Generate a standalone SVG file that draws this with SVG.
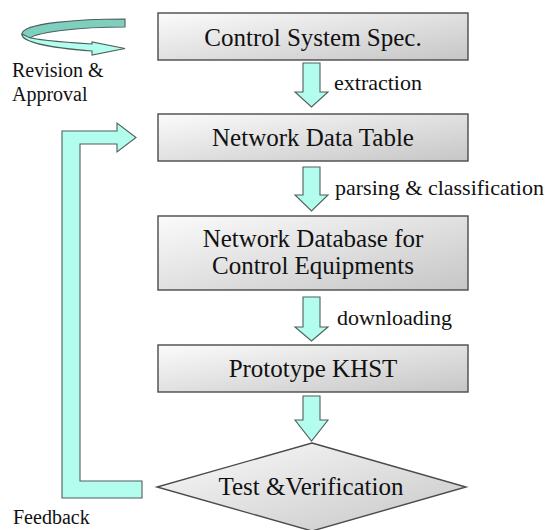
<svg xmlns="http://www.w3.org/2000/svg" width="548" height="530" viewBox="0 0 548 530">
  <style>
    .box { fill: url(#boxFill); stroke: #4a4a4a; stroke-width: 1.4; }
    .arrow { fill: #b3fdee; stroke: #4f5f5c; stroke-width: 1.1; stroke-linejoin: miter; }
    .dark { fill: #7fcfbf; stroke: #4f5f5c; stroke-width: 1.1; }
    text { font-family: "Liberation Serif", "Times New Roman", "DejaVu Serif", serif; fill: #111; }
    .node { font-size: 25px; text-anchor: middle; }
    .lbl { font-size: 22px; }
    .side { font-size: 20px; }
  </style>
  <defs>
    <linearGradient id="boxFill" x1="0" y1="0" x2="1" y2="1">
      <stop offset="0" stop-color="#fbfbfb"/>
      <stop offset="1" stop-color="#c6c6c6"/>
    </linearGradient>
  </defs>

  <!-- revision loop -->
  <g id="revision">
    <path class="dark" d="M125,19 C80,19 22,23 22,34 C22,37 24,39 28,40 C32,32 80,27 125,27 Z"/>
    <path class="arrow" d="M22,34 C22,42 50,48 92,51 L92,55 L125,48.5 L92,42 L92,44 C60,42 35,40 28,37 Z"/>
    <text class="side" x="12" y="77">Revision &amp;</text>
    <text class="side" x="12" y="101">Approval</text>
  </g>

  <!-- process steps -->
  <g id="spec">
    <rect class="box" x="158" y="13" width="310" height="47"/>
    <text class="node" x="313" y="46">Control System Spec.</text>
  </g>
  <g id="table">
    <rect class="box" x="158" y="114" width="310" height="47"/>
    <text class="node" x="313" y="146">Network Data Table</text>
  </g>
  <g id="database">
    <rect class="box" x="158" y="216" width="310" height="74"/>
    <text class="node" x="313" y="247">Network Database for</text>
    <text class="node" x="313" y="274">Control Equipments</text>
  </g>
  <g id="prototype">
    <rect class="box" x="158" y="345" width="310" height="47"/>
    <text class="node" x="313" y="377">Prototype KHST</text>
  </g>
  <g id="test">
    <polygon class="box" points="312,443 466,487 312,531 157,487"/>
    <text class="node" x="311" y="495">Test &amp;Verification</text>
  </g>

  <!-- connectors -->
  <g id="connectors">
    <polygon class="arrow" points="303,63 320,63 320,92 328,92 311.5,107 295,92 303,92"/>
    <text class="lbl" x="334" y="90">extraction</text>
    <polygon class="arrow" points="303,167 320,167 320,195 328,195 311.5,211 295,195 303,195"/>
    <text class="lbl" x="335" y="195">parsing &amp; classification</text>
    <polygon class="arrow" points="303,297 320,297 320,327 328,327 311.5,341 295,327 303,327"/>
    <text class="lbl" x="337" y="325">downloading</text>
    <polygon class="arrow" points="303,396 320,396 320,420 328,420 311.5,441 295,420 303,420"/>
    <polygon class="arrow" points="62,498 142,498 142,481 80,481 80,144 117,144 117,152 136,137.5 117,123 117,131 62,131"/>
    <text class="side" x="13" y="524">Feedback</text>
  </g>
</svg>
